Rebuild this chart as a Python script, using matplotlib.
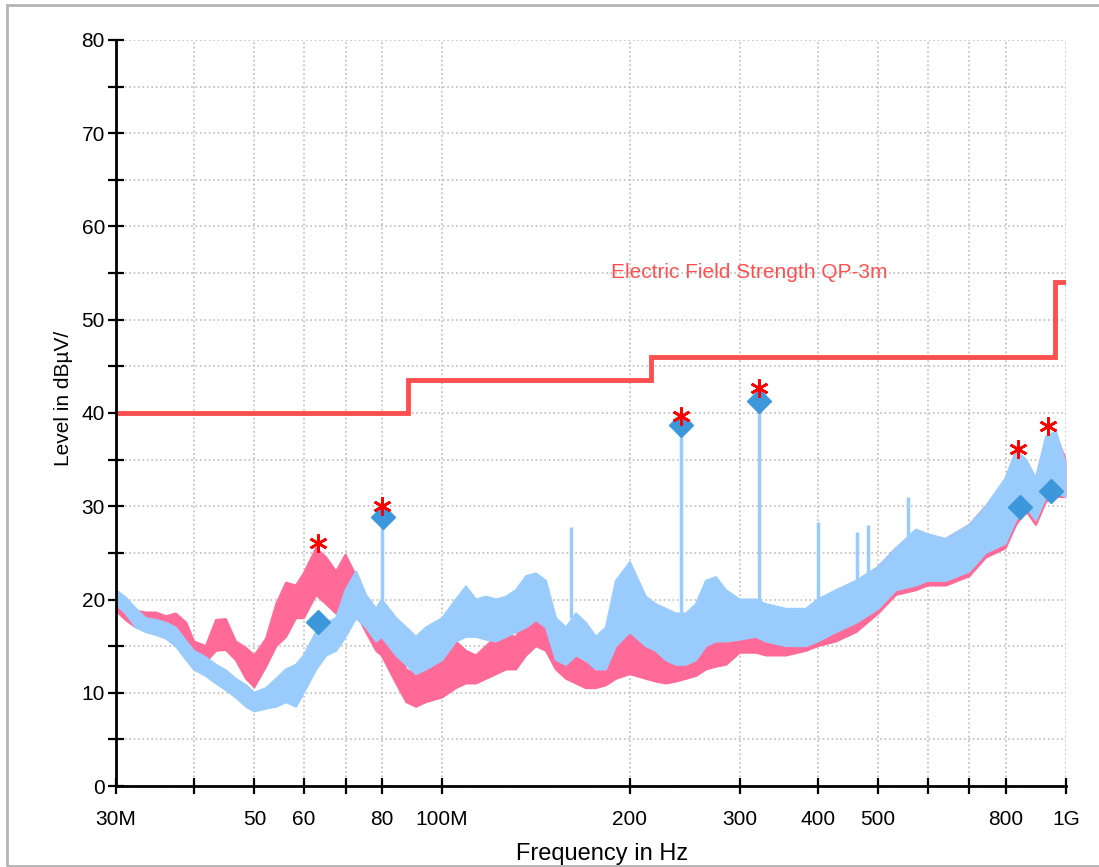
import numpy as np
import matplotlib as mpl
mpl.use("Agg")
import matplotlib.pyplot as plt
from matplotlib.patches import Rectangle

# ---- data (frequency in MHz, level in dBuV/m)
pink_freq = [30.0, 31.1, 32.3, 33.5, 34.8, 36.1, 37.4, 38.9, 40.0, 41.8,
             43.4, 45.0, 46.7, 48.5, 50.0, 52.2, 54.2, 56.2, 58.3, 60.0,
             62.8, 65.2, 67.6, 70.0, 72.8, 75.5, 78.4, 80.0, 84.4, 87.6,
             90.8, 94.2, 100.0, 105.2, 109.2, 113.3, 117.6, 122.0, 126.6, 131.3,
             136.3, 141.4, 146.7, 152.2, 158.0, 163.9, 170.0, 176.4, 183.0, 189.9,
             200.0, 212.1, 220.1, 228.4, 237.0, 245.9, 255.2, 264.7, 274.7, 285.1,
             300.0, 318.5, 330.5, 355.8, 383.0, 400.0, 427.9, 460.9, 500.0, 534.0,
             575.0, 600.0, 642.0, 700.0, 744.0, 800.0, 831.7, 863.0, 895.0, 929.0,
             964.0, 1000.0]
pink_lo = [18.8, 17.8, 17.0, 16.8, 16.8, 16.6, 17.0, 15.5, 13.6, 13.3,
           14.5, 14.6, 13.5, 11.5, 10.6, 12.8, 15.0, 16.0, 18.0, 18.0,
           20.5, 19.5, 18.5, 19.5, 18.5, 16.5, 14.5, 14.0, 11.0, 9.0,
           8.5, 9.0, 9.5, 10.5, 11.0, 11.0, 11.5, 12.0, 12.5, 12.5,
           14.0, 15.0, 14.5, 12.5, 11.5, 11.0, 10.5, 10.5, 10.8, 11.5,
           12.0, 11.5, 11.2, 11.0, 11.2, 11.5, 11.8, 12.5, 12.8, 13.0,
           14.3, 14.3, 14.0, 14.0, 14.5, 15.0, 15.5, 16.5, 18.5, 20.5,
           21.0, 21.5, 21.5, 22.5, 24.5, 25.5, 28.0, 29.5, 28.0, 30.5,
           31.0, 31.0]
pink_hi = [20.0, 19.6, 18.8, 18.6, 18.6, 18.2, 18.5, 17.5, 15.5, 15.0,
           17.8, 17.9, 15.5, 14.8, 14.0, 15.8, 19.5, 21.8, 21.5, 22.8,
           25.5, 24.5, 23.0, 24.8, 22.5, 20.0, 18.0, 17.5, 15.5, 12.5,
           12.0, 12.5, 14.0, 15.5, 14.5, 14.0, 15.0, 16.0, 16.2, 16.0,
           18.0, 19.5, 18.0, 15.5, 14.5, 13.8, 13.2, 13.0, 14.0, 16.0,
           17.3, 14.9, 14.3, 14.0, 14.3, 14.5, 14.5, 15.3, 15.3, 15.8,
           16.4, 16.5, 16.5, 16.6, 17.0, 17.8, 19.0, 21.0, 23.5, 25.5,
           27.0, 26.5, 26.5, 28.0, 30.0, 32.0, 35.5, 34.0, 33.0, 37.0,
           37.5, 35.0]

blue_freq = pink_freq
blue_lo = [19.5, 18.5, 17.0, 16.5, 16.2, 15.8, 15.0, 13.5, 12.5, 11.8,
           11.0, 10.3, 9.5, 8.5, 8.0, 8.3, 8.5, 9.0, 8.5, 10.0,
           12.5, 14.0, 14.5, 16.0, 18.0, 17.0, 15.5, 16.0, 14.0, 13.0,
           12.0, 12.5, 13.5, 15.5, 16.0, 16.0, 15.7, 15.5, 16.0, 16.5,
           17.0, 17.8, 17.0, 13.5, 13.0, 14.0, 13.5, 12.5, 12.5, 15.0,
           16.5, 15.0, 14.5, 13.5, 13.0, 13.0, 13.5, 15.0, 15.5, 15.5,
           15.7, 16.0, 15.5, 15.0, 15.0, 15.5, 16.5, 17.5, 19.0, 21.0,
           21.5, 22.0, 22.0, 23.0, 25.0, 26.0, 28.5, 30.0, 28.5, 31.0,
           31.5, 31.0]
blue_hi = [21.0, 20.2, 19.0, 18.0, 17.8, 17.5, 17.0, 15.5, 14.5, 13.8,
           13.0, 12.4, 11.5, 10.8, 10.0, 10.5, 11.5, 12.5, 13.0, 14.0,
           16.5, 17.5, 18.0, 21.0, 23.0, 20.5, 19.0, 20.0, 18.0, 17.0,
           16.0, 17.0, 18.0, 20.0, 21.4, 20.0, 20.3, 20.0, 20.3, 21.0,
           22.5, 22.8, 22.0, 18.0, 17.0, 18.5, 17.5, 16.0, 17.0, 22.0,
           24.0, 20.3, 19.5, 19.0, 18.5, 18.5, 19.5, 22.0, 22.4, 21.0,
           20.0, 20.0, 19.5, 19.0, 19.0, 20.0, 21.0, 22.0, 23.5, 25.5,
           27.5, 27.0, 26.5, 28.0, 30.0, 33.0, 36.0, 35.0, 33.0, 37.5,
           38.0, 34.5]

# narrow spikes of the blue trace
spike_freq = [80.0, 160.7, 241.5, 322.0, 400.0, 462.0, 481.6, 558.0]
spike_base = [18.0, 18.0, 16.0, 17.0, 17.0, 19.0, 19.0, 22.0]
spike_top = [28.8, 27.8, 38.7, 41.3, 28.3, 27.2, 28.0, 31.0]

# limit line (step)
limit_freq = [30.0, 88.0, 216.0, 960.0, 1000.0]
limit_level = [40.0, 43.5, 46.0, 54.0, 54.0]

# final peak markers
star_freq = [63.2, 80.1, 241.5, 322.0, 838.0, 935.8]
star_level = [26.1, 30.0, 39.7, 42.7, 36.1, 38.6]
diam_freq = [63.2, 80.3, 241.5, 322.0, 845.0, 945.0]
diam_level = [17.6, 28.8, 38.7, 41.3, 29.9, 31.6]

xtick_mhz = [30, 40, 50, 60, 70, 80, 100, 200, 300, 400, 500, 600, 700, 800, 1000]
xtick_labels = ['30M', '', '50', '60', '', '80', '100M', '200', '300', '400',
                '500', '', '', '800', '1G']

PINK = '#ff6a98'
BLUE = '#99ccfd'
LIMIT = '#ff4f4f'
DIAM = '#3d97db'
FS = 15


def main():
    plt.rcParams['font.family'] = ['Liberation Sans', 'DejaVu Sans']
    fig = plt.figure(figsize=(10.99, 8.67), dpi=100)
    ax = fig.add_axes([116/1099, 1-786/867, 950/1099, 746/867])

    mhz = 1e6
    pf = np.array(pink_freq) * mhz
    bf = np.array(blue_freq) * mhz

    ax.fill_between(pf, pink_lo, pink_hi, color=PINK, lw=0, zorder=3)
    ax.plot(pf, pink_lo, color=PINK, lw=1.5, zorder=3)
    ax.plot(pf, pink_hi, color=PINK, lw=1.5, zorder=3)

    ax.fill_between(bf, blue_lo, blue_hi, color=BLUE, lw=0, zorder=4)
    ax.plot(bf, blue_lo, color=BLUE, lw=1.5, zorder=4)
    ax.plot(bf, blue_hi, color=BLUE, lw=1.5, zorder=4)
    ax.vlines(np.array(spike_freq) * mhz, spike_base, spike_top,
              color=BLUE, lw=2.5, zorder=4)

    ax.step(np.array(limit_freq) * mhz, limit_level, where='post',
            color=LIMIT, lw=3.5, zorder=5, solid_joinstyle='miter')
    ax.text(186.6 * mhz, 55.1, 'Electric Field Strength QP-3m',
            color=LIMIT, fontsize=FS, va='center', ha='left', zorder=6)

    ax.plot(np.array(diam_freq) * mhz, diam_level, ls='none', marker='D',
            ms=12, color=DIAM, mec=DIAM, zorder=6)
    ax.plot(np.array(star_freq) * mhz, star_level, ls='none', marker=(6, 2, 0),
            ms=13, mew=1.9, color='#ff0000', zorder=7)

    ax.set_xscale('log')
    ax.set_xlim(30e6, 1e9)
    ax.set_ylim(0, 80)
    ax.set_xticks([v * mhz for v in xtick_mhz])
    ax.set_xticklabels(xtick_labels)
    ax.xaxis.set_minor_locator(mpl.ticker.NullLocator())
    ax.set_yticks(np.arange(0, 81, 10))
    ax.set_yticks(np.arange(5, 80, 10), minor=True)

    for s in ['top', 'right']:
        ax.spines[s].set_visible(False)
    for s in ['left', 'bottom']:
        ax.spines[s].set_linewidth(2)
        ax.spines[s].set_zorder(8)

    ax.tick_params(axis='both', which='both', direction='inout', length=11,
                   width=1.6, labelsize=FS)
    ax.tick_params(axis='y', which='both', pad=2.5)
    ax.tick_params(axis='x', which='both', pad=12)

    ax.grid(True, which='both', axis='y', ls=':', color='#bdbdbd', lw=1.2)
    ax.grid(True, which='major', axis='x', ls=':', color='#bdbdbd', lw=1.2)
    ax.set_axisbelow(True)

    ax.set_ylabel('Level in dBµV/', fontsize=FS)
    ax.yaxis.set_label_coords(-0.045, 0.52)
    ax.set_xlabel('Frequency in Hz', fontsize=17)
    ax.xaxis.set_label_coords(0.512, -0.077)

    fig.patches.append(Rectangle((7/1099, 1-866/867), 1.1, (866-5)/867,
                                 transform=fig.transFigure, fill=False,
                                 ec='#b4b4b4', lw=2))

    fig.savefig('out.png', dpi=100)
    plt.close(fig)


if __name__ == "__main__":
    main()
